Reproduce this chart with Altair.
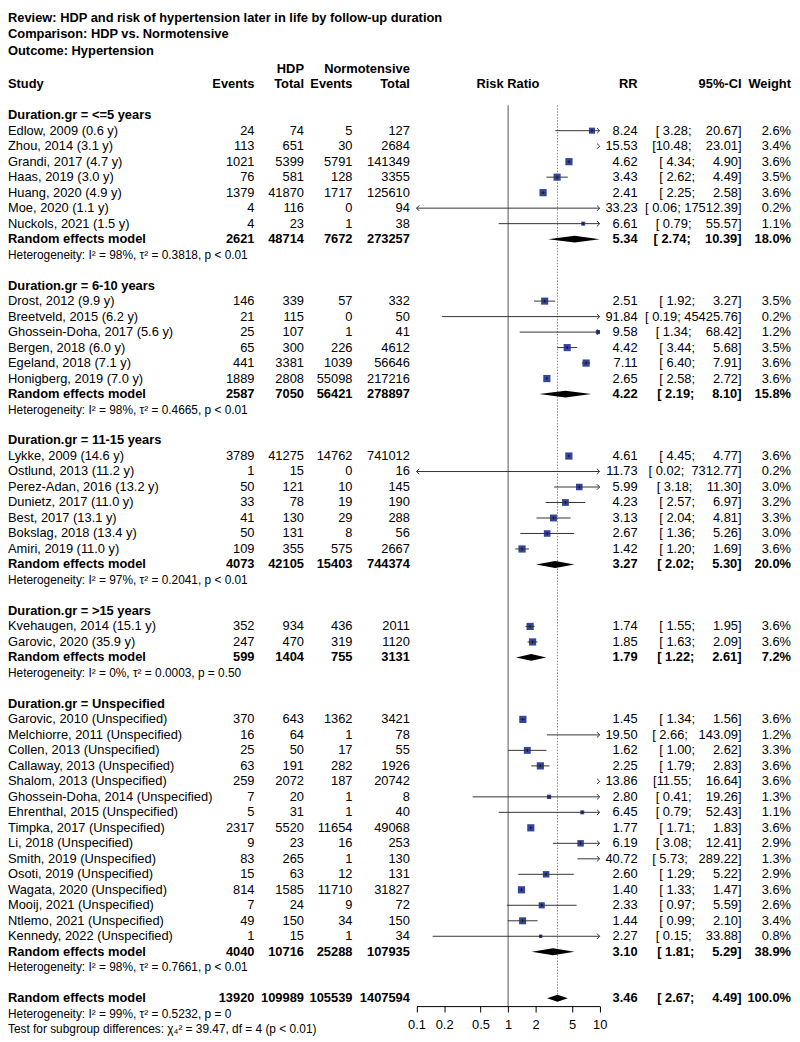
import altair as alt
import pandas as pd

FONT = "Liberation Sans"

# ---------------- data ----------------
groups = ["<=5 years", "6-10 years", "11-15 years", ">15 years", "Unspecified"]
group_n = [7, 6, 7, 2, 15]

study = [
    "Edlow, 2009 (0.6 y)", "Zhou, 2014 (3.1 y)", "Grandi, 2017 (4.7 y)", "Haas, 2019 (3.0 y)",
    "Huang, 2020 (4.9 y)", "Moe, 2020 (1.1 y)", "Nuckols, 2021 (1.5 y)",
    "Drost, 2012 (9.9 y)", "Breetveld, 2015 (6.2 y)", "Ghossein-Doha, 2017 (5.6 y)",
    "Bergen, 2018 (6.0 y)", "Egeland, 2018 (7.1 y)", "Honigberg, 2019 (7.0 y)",
    "Lykke, 2009 (14.6 y)", "Ostlund, 2013 (11.2 y)", "Perez-Adan, 2016 (13.2 y)",
    "Dunietz, 2017 (11.0 y)", "Best, 2017 (13.1 y)", "Bokslag, 2018 (13.4 y)", "Amiri, 2019 (11.0 y)",
    "Kvehaugen, 2014 (15.1 y)", "Garovic, 2020 (35.9 y)",
    "Garovic, 2010 (Unspecified)", "Melchiorre, 2011 (Unspecified)", "Collen, 2013 (Unspecified)",
    "Callaway, 2013 (Unspecified)", "Shalom, 2013 (Unspecified)", "Ghossein-Doha, 2014 (Unspecified)",
    "Ehrenthal, 2015 (Unspecified)", "Timpka, 2017 (Unspecified)", "Li, 2018 (Unspecified)",
    "Smith, 2019 (Unspecified)", "Osoti, 2019 (Unspecified)", "Wagata, 2020 (Unspecified)",
    "Mooij, 2021 (Unspecified)", "Ntlemo, 2021 (Unspecified)", "Kennedy, 2022 (Unspecified)",
]
ev_hdp = [24, 113, 1021, 76, 1379, 4, 4,
          146, 21, 25, 65, 441, 1889,
          3789, 1, 50, 33, 41, 50, 109,
          352, 247,
          370, 16, 25, 63, 259, 7, 5, 2317, 9, 83, 15, 814, 7, 49, 1]
tot_hdp = [74, 651, 5399, 581, 41870, 116, 23,
           339, 115, 107, 300, 3381, 2808,
           41275, 15, 121, 78, 130, 131, 355,
           934, 470,
           643, 64, 50, 191, 2072, 20, 31, 5520, 23, 265, 63, 1585, 24, 150, 15]
ev_ctl = [5, 30, 5791, 128, 1717, 0, 1,
          57, 0, 1, 226, 1039, 55098,
          14762, 0, 10, 19, 29, 8, 575,
          436, 319,
          1362, 1, 17, 282, 187, 1, 1, 11654, 16, 1, 12, 11710, 9, 34, 1]
tot_ctl = [127, 2684, 141349, 3355, 125610, 94, 38,
           332, 50, 41, 4612, 56646, 217216,
           741012, 16, 145, 190, 288, 56, 2667,
           2011, 1120,
           3421, 78, 55, 1926, 20742, 8, 40, 49068, 253, 130, 131, 31827, 72, 150, 34]
rr = [8.24, 15.53, 4.62, 3.43, 2.41, 33.23, 6.61,
      2.51, 91.84, 9.58, 4.42, 7.11, 2.65,
      4.61, 11.73, 5.99, 4.23, 3.13, 2.67, 1.42,
      1.74, 1.85,
      1.45, 19.50, 1.62, 2.25, 13.86, 2.80, 6.45, 1.77, 6.19, 40.72, 2.60, 1.40, 2.33, 1.44, 2.27]
ci_lo = [3.28, 10.48, 4.34, 2.62, 2.25, 0.06, 0.79,
         1.92, 0.19, 1.34, 3.44, 6.40, 2.58,
         4.45, 0.02, 3.18, 2.57, 2.04, 1.36, 1.20,
         1.55, 1.63,
         1.34, 2.66, 1.00, 1.79, 11.55, 0.41, 0.79, 1.71, 3.08, 5.73, 1.29, 1.33, 0.97, 0.99, 0.15]
ci_up = [20.67, 23.01, 4.90, 4.49, 2.58, 17512.39, 55.57,
         3.27, 45425.76, 68.42, 5.68, 7.91, 2.72,
         4.77, 7312.77, 11.30, 6.97, 4.81, 5.26, 1.69,
         1.95, 2.09,
         1.56, 143.09, 2.62, 2.83, 16.64, 19.26, 52.43, 1.83, 12.41, 289.22, 5.22, 1.47, 5.59, 2.10, 33.88]
weight = [2.6, 3.4, 3.6, 3.5, 3.6, 0.2, 1.1,
          3.5, 0.2, 1.2, 3.5, 3.6, 3.6,
          3.6, 0.2, 3.0, 3.2, 3.3, 3.0, 3.6,
          3.6, 3.6,
          3.6, 1.2, 3.3, 3.6, 3.6, 1.3, 1.1, 3.6, 2.9, 1.3, 2.9, 3.6, 2.6, 3.4, 0.8]

sub_ev_hdp = [2621, 2587, 4073, 599, 4040]
sub_tot_hdp = [48714, 7050, 42105, 1404, 10716]
sub_ev_ctl = [7672, 56421, 15403, 755, 25288]
sub_tot_ctl = [273257, 278897, 744374, 3131, 107935]
sub_rr = [5.34, 4.22, 3.27, 1.79, 3.10]
sub_lo = [2.74, 2.19, 2.02, 1.22, 1.81]
sub_up = [10.39, 8.10, 5.30, 2.61, 5.29]
sub_weight = [18.0, 15.8, 20.0, 7.2, 38.9]
sub_i2 = [98, 98, 97, 0, 98]
sub_tau2 = ["0.3818", "0.4665", "0.2041", "0.0003", "0.7661"]
sub_p = ["p < 0.01", "p < 0.01", "p < 0.01", "p = 0.50", "p < 0.01"]

ov_counts = [13920, 109989, 105539, 1407594]
ov_rr, ov_lo, ov_up, ov_weight = 3.46, 2.67, 4.49, 100.0
ov_i2, ov_tau2, ov_p = 99, "0.5232", "p = 0"
test_text = "Test for subgroup differences: \u03c7\u2084\u00b2 = 39.47, df = 4 (p < 0.01)"

titles = ["Review: HDP and risk of hypertension later in life by follow-up duration",
          "Comparison: HDP vs. Normotensive",
          "Outcome: Hypertension"]


# ---------------- tables ----------------
def ci_str(l, u):
    return ("[" + f"{l:5.2f}" + "; " + f"{u:8.2f}" + "]").replace(" ", "\u00a0")


def het_str(i2, tau2, p):
    return f"Heterogeneity: I\u00b2 = {i2}%, \u03c4\u00b2 = {tau2}, {p}"


def numrow(r, label, eh, th, ec, tc, est, lo, up, w):
    return dict(row=r, label=label, eh=str(eh), th=str(th), ec=str(ec), tc=str(tc),
                rr=est, lo=lo, up=up, w=w,
                rr_s=f"{est:.2f}", ci_s=ci_str(lo, up), w_s=f"{w:.1f}%")


st_rows, sum_rows, head_rows, het_rows = [], [], [], []
r = 0
k = 0
for gi, g in enumerate(groups):
    head_rows.append(dict(row=r, label=f"Duration.gr = {g}"))
    r += 1
    for _ in range(group_n[gi]):
        st_rows.append(numrow(r, study[k], ev_hdp[k], tot_hdp[k], ev_ctl[k], tot_ctl[k],
                              rr[k], ci_lo[k], ci_up[k], weight[k]))
        k += 1
        r += 1
    sum_rows.append(numrow(r, "Random effects model", sub_ev_hdp[gi], sub_tot_hdp[gi],
                           sub_ev_ctl[gi], sub_tot_ctl[gi], sub_rr[gi], sub_lo[gi],
                           sub_up[gi], sub_weight[gi]))
    r += 1
    het_rows.append(dict(row=r, label=het_str(sub_i2[gi], sub_tau2[gi], sub_p[gi])))
    r += 2
sum_rows.append(numrow(r, "Random effects model", *ov_counts, ov_rr, ov_lo, ov_up, ov_weight))
r += 1
het_rows.append(dict(row=r, label=het_str(ov_i2, ov_tau2, ov_p)))
r += 1
het_rows.append(dict(row=r, label=test_text))
last_row = r

df_st = pd.DataFrame(st_rows)
df_sum = pd.DataFrame(sum_rows)
df_head = pd.DataFrame(head_rows)
df_het = pd.DataFrame(het_rows)

col_head_top = pd.DataFrame([dict(row=-3, label="HDP", col="th"),
                             dict(row=-3, label="Normotensive", col="tc")])
col_head = pd.DataFrame([dict(row=-2, label="Study", col="label"),
                         dict(row=-2, label="Events", col="eh"),
                         dict(row=-2, label="Total", col="th"),
                         dict(row=-2, label="Events", col="ec"),
                         dict(row=-2, label="Total", col="tc"),
                         dict(row=-2, label="Risk Ratio", col="forest"),
                         dict(row=-2, label="RR", col="rr_s"),
                         dict(row=-2, label="95%-CI", col="ci_s"),
                         dict(row=-2, label="Weight", col="w_s")])

# diamond vertices for the pooled estimates
HALF = 0.22
dia = []
for i, s in enumerate(sum_rows):
    dia.append(dict(id=i, x=s["lo"], y1=s["row"], y2=s["row"]))
    dia.append(dict(id=i, x=s["rr"], y1=s["row"] - HALF, y2=s["row"] + HALF))
    dia.append(dict(id=i, x=s["up"], y1=s["row"], y2=s["row"]))
df_dia = pd.DataFrame(dia)

# ---------------- layout ----------------
W, H = 792, 1003
Y0, RH = 103, 15.65
yscale = alt.Scale(domain=[0, last_row], range=[Y0, Y0 + last_row * RH], nice=False, zero=False)
xscale = alt.Scale(type="log", domain=[0.1, 10], range=[412.7, 597.7], clamp=True, nice=False)
xaxis = alt.Axis(values=[0.1, 0.2, 0.5, 1, 2, 5, 10], format="~g", title=None, grid=False,
                 tickSize=6, tickColor="black", domainColor="black", labelColor="black",
                 labelFont=FONT, labelFontSize=13, labelPadding=7, labelFlush=False,
                 labelOverlap=False, orient="bottom")

colx = {"label": 0, "eh": 249, "th": 299, "ec": 348, "tc": 406, "forest": 505,
        "rr_s": 636, "ci_s": 741, "w_s": 791}


def Y(field="row"):
    return alt.Y(f"{field}:Q", scale=yscale, axis=None)


def X(field):
    return alt.X(f"{field}:Q", scale=xscale, axis=xaxis)


def text_layer(df, field, xpos, align, bold=False, size=13):
    return alt.Chart(df).mark_text(
        align=align, baseline="middle", font=FONT, fontSize=size,
        fontWeight="bold" if bold else "normal", color="black"
    ).encode(x=alt.value(xpos), y=Y(), text=alt.Text(f"{field}:N"))


layers = []

# reference lines
layers.append(alt.Chart(pd.DataFrame({"v": [1.0]})).mark_rule(color="#555", strokeWidth=1)
              .encode(x=X("v"), y=alt.value(93), y2=alt.value(H)))
layers.append(alt.Chart(pd.DataFrame({"v": [ov_rr]})).mark_rule(color="#888", strokeWidth=1,
                                                                 strokeDash=[1.5, 1.5])
              .encode(x=X("v"), y=alt.value(93), y2=alt.value(991)))

# study squares, CI lines, arrows
layers.append(alt.Chart(df_st).transform_filter(alt.datum.rr <= 10).mark_square(
    color="#34469f", opacity=1).encode(
    x=X("rr"), y=Y(),
    size=alt.Size("w:Q", scale=alt.Scale(domain=[0, 3.6], range=[0, 53]), legend=None)))
layers.append(alt.Chart(df_st).mark_rule(color="#333", strokeWidth=1)
              .encode(x=X("lo"), x2=alt.X2("up"), y=Y()))
layers.append(alt.Chart(df_st).transform_filter(alt.datum.rr <= 10).mark_tick(
    color="black", orient="vertical", size=3, thickness=1).encode(x=X("rr"), y=Y()))
layers.append(alt.Chart(df_st).transform_filter(alt.datum.up > 10).mark_point(
    shape="M -1 -1 L 0 0 L -1 1", filled=False, color="#333", strokeWidth=1, size=30, opacity=1)
    .encode(x=X("up"), y=Y()))
layers.append(alt.Chart(df_st).transform_filter(alt.datum.lo < 0.1).mark_point(
    shape="M 1 -1 L 0 0 L 1 1", filled=False, color="#333", strokeWidth=1, size=30, opacity=1)
    .encode(x=X("lo"), y=Y()))

# diamonds
layers.append(alt.Chart(df_dia).mark_area(color="black", orient="vertical", opacity=1)
              .encode(x=X("x"), y=Y("y1"), y2=alt.Y2("y2"), detail="id:N"))

# text columns
layers.append(text_layer(df_st, "label", colx["label"], "left"))
layers.append(text_layer(df_sum, "label", colx["label"], "left", bold=True))
for c in ["eh", "th", "ec", "tc", "rr_s", "ci_s", "w_s"]:
    layers.append(text_layer(df_st, c, colx[c], "right"))
    layers.append(text_layer(df_sum, c, colx[c], "right", bold=True))
layers.append(text_layer(df_head, "label", colx["label"], "left", bold=True))
layers.append(text_layer(df_het, "label", colx["label"], "left", size=12))

# column headers
for df_h in [col_head_top, col_head]:
    for _, hr in df_h.iterrows():
        c = hr["col"]
        align = "left" if c == "label" else ("center" if c == "forest" else "right")
        layers.append(text_layer(df_h[(df_h["col"] == c)], "label", colx[c], align, bold=True))

# titles
df_titles = pd.DataFrame({"label": titles, "i": [0, 1, 2]})
for i, t in enumerate(titles):
    layers.append(alt.Chart(df_titles[df_titles["i"] == i]).mark_text(
        align="left", baseline="middle", font=FONT, fontSize=13, fontWeight="bold", color="black")
        .encode(x=alt.value(0), y=alt.value(5 + 16.5 * i), text="label:N"))

chart = alt.layer(*layers).properties(
    width=W, height=H, autosize="none",
    padding={"left": 0, "top": 0, "right": 0, "bottom": 35}
).configure_view(stroke=None)

chart.save("out.html", embed_options={"renderer": "svg", "actions": False})
